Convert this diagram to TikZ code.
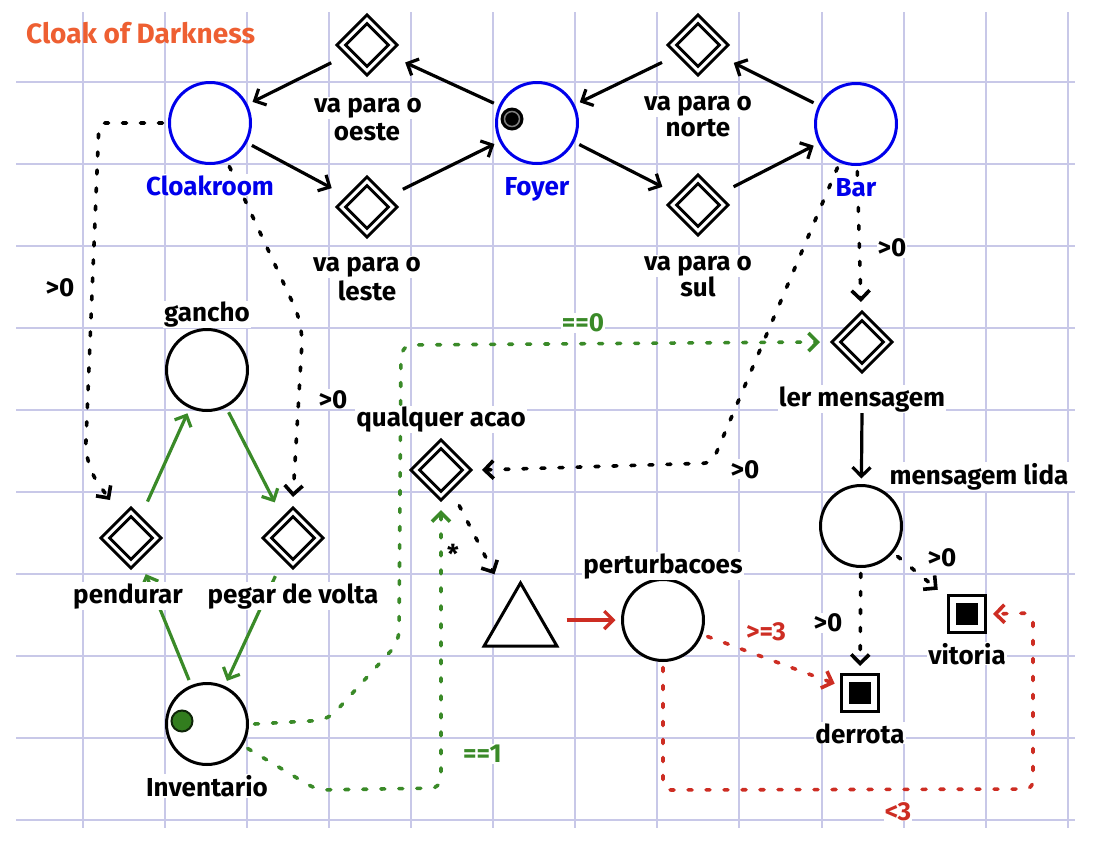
\documentclass[tikz,border=0pt]{standalone}
\usepackage{fontspec}
\setmainfont{Fira Sans}
\usetikzlibrary{arrows.meta,calc,shapes.geometric}
\definecolor{gridc}{RGB}{200,200,232}
\definecolor{roomblue}{RGB}{0,0,235}
\definecolor{dgreen}{RGB}{58,138,40}
\definecolor{dred}{RGB}{205,45,35}
\definecolor{titlec}{RGB}{238,95,50}
\definecolor{dotgreen}{RGB}{50,125,30}
\newcommand\lblfont{\fontsize{26}{28}\selectfont\bfseries}
\newcommand\ttlfont{\fontsize{28}{30}\selectfont\bfseries}
\pgfdeclarelayer{gridlayer}
\pgfdeclarelayer{connlayer}
\pgfsetlayers{gridlayer,connlayer,main}
\begin{document}
\begin{tikzpicture}[x=1pt,y=-1pt,
  gridline/.style={draw=gridc, line width=2pt},
  place/.style={circle, draw, line width=3pt, minimum size=81pt, inner sep=0pt, outer sep=7pt, fill=white},
  room/.style={place, draw=roomblue},
  trans/.style={diamond, aspect=1, draw, line width=3pt, double, double distance=3pt, minimum size=52.6pt, inner sep=0pt, fill=white},
  goal/.style={rectangle, draw, line width=3.3pt, minimum size=36.7pt, inner sep=0pt, fill=white,
    path picture={\fill[black] ([shift={(-10.7pt,-10.7pt)}]path picture bounding box.center) rectangle ([shift={(10.7pt,10.7pt)}]path picture bounding box.center);}},
  lbl/.style={font=\lblfont, fill=white, inner sep=1pt, anchor=base},
  roomlbl/.style={lbl, text=roomblue},
  glbl/.style={lbl, text=dgreen},
  rlbl/.style={lbl, text=dred},
  karr/.style={draw=black, line width=3.2pt, -{Straight Barb[length=9pt,width=18pt]}},
  kdot/.style={karr, line width=3.6pt, line cap=round, dash pattern=on 4pt off 14pt},
  garr/.style={karr, draw=dgreen},
  gdot/.style={kdot, draw=dgreen},
  rarr/.style={karr, draw=dred},
  rdot/.style={kdot, draw=dred}]
\useasboundingbox (0,0) rectangle (1112,852);

\begin{pgfonlayer}{gridlayer}
\fill[white] (0,0) rectangle (1112,852);
\foreach \i in {0,...,12} \draw[gridline] ({83+82.06*\i},12) -- ({83+82.06*\i},828);
\foreach \j in {0,...,9} \draw[gridline] (16,{82+82*\j}) -- (1075,{82+82*\j});
\end{pgfonlayer}

% places
\node[room] (cloak) at (210,123) {};
\node[room] (foyer) at (537,123) {};
\node[room] (bar) at (856,124) {};
\node[place] (gancho) at (207,370) {};
\node[place] (invent) at (207,724) {};
\node[place] (pert) at (663,620) {};
\node[place] (lida) at (861,526) {};
% transitions
\node[trans] (oeste) at (367,45) {};
\node[trans] (leste) at (367,207) {};
\node[trans] (norte) at (698,45) {};
\node[trans] (sul) at (698,205) {};
\node[trans] (pend) at (131,538) {};
\node[trans] (pegar) at (293,538) {};
\node[trans] (qual) at (441,470) {};
\node[trans] (ler) at (862,342) {};
\node[regular polygon, regular polygon sides=3, draw, line width=3pt, minimum size=84pt, inner sep=0pt, fill=white] (trig) at (520.5,625) {};
\node[goal] (vit) at (967,614) {};
\node[goal] (der) at (860,693) {};
% tokens
\fill[black] ($(foyer)+(-25,-4)$) circle (11.5pt);
\draw[gray, line width=1.5pt] ($(foyer)+(-25,-4)$) circle (7.5pt);
\filldraw[fill=dotgreen, draw=black!70!dotgreen, line width=2pt] ($(invent)+(-25,-3)$) circle (10.5pt);

% labels
\node[font=\ttlfont, text=titlec, anchor=base west, inner sep=0pt] (title) at (26,43) {Cloak of Darkness};
\node[roomlbl] (cloakL) at (210,195) {Cloakroom};
\node[roomlbl] (foyerL) at (537,195) {Foyer};
\node[roomlbl] (barL) at (856,196) {Bar};
\node[lbl] (oesteA) at (368,112.5) {va para o};
\node[lbl] (oesteB) at (367,140) {oeste};
\node[lbl] (lesteA) at (367,271.5) {va para o};
\node[lbl] (lesteB) at (367,300) {leste};
\node[lbl] (norteA) at (698,110) {va para o};
\node[lbl] (norteB) at (698,136.5) {norte};
\node[lbl] (sulA) at (698,270) {va para o};
\node[lbl] (sulB) at (698,296.5) {sul};
\node[lbl] (ganchoL) at (207,321.5) {gancho};
\node[lbl] (pendL) at (128,603) {pendurar};
\node[lbl] (pegL) at (293,603) {pegar de volta};
\node[lbl] (invL) at (207,796.5) {Inventario};
\node[lbl] (qualL) at (441,426.5) {qualquer acao};
\node[lbl] (pertL) at (663,573) {perturbacoes};
\node[lbl] (lerL) at (862,406) {ler mensagem};
\node[lbl] (lidaL) at (979,484) {mensagem lida};
\node[lbl] (vitL) at (967,664) {vitoria};
\node[lbl] (derL) at (860,743) {derrota};
% conditions
\node[lbl] (c1) at (60,296.5) {>0};
\node[lbl] (c2) at (333,408) {>0};
\node[lbl] (c3) at (892,256.5) {>0};
\node[lbl] (c4) at (745,478) {>0};
\node[lbl] (c5) at (942,566.5) {>0};
\node[lbl] (c6) at (828,631.5) {>0};
\node[lbl] (star) at (453,563) {*};
\node[glbl] (g0) at (583,331.5) {==0};
\node[glbl] (g1) at (482.5,762.5) {==1};
\node[rlbl] (r3) at (766,640) {>=3};
\node[rlbl] (rl) at (898,820) {<3};

\begin{pgfonlayer}{connlayer}
% black solid
\draw[karr] ($(oeste)!40pt!(cloak)$) -- (cloak);
\draw[karr] (foyer) -- ($(oeste)!42pt!(foyer)$);
\draw[karr] (cloak) -- ($(leste)!40pt!(cloak)$);
\draw[karr] ($(leste)!40pt!(foyer)$) -- (foyer);
\draw[karr] (foyer) -- ($(sul)!40pt!(foyer)$);
\draw[karr] ($(norte)!40pt!(foyer)$) -- (foyer);
\draw[karr] (bar) -- ($(norte)!40pt!(bar)$);
\draw[karr] ($(sul)!40pt!(bar)$) -- (bar);
\draw[karr] (lerL.south) -- (lida);
% black dotted
\draw[kdot, rounded corners=6pt] (cloak.west) -- (99,123) [rounded corners=22pt] -- (85,465) -- ($(pend)+(-21,-38)$);
\draw[kdot, rounded corners=20pt] (cloak.-66) -- (303,325) -- ($(pegar)+(0,-41)$);
\draw[kdot] (bar) -- ($(ler)!40pt!(bar)$);
\draw[kdot, rounded corners=8pt] (bar.247) -- (712,463) -- ($(qual)+(41,0)$);
\draw[kdot] ($(qual)!40pt!(trig)$) -- ($(trig)!57pt!(qual)$);
\draw[kdot] (lida) -- ($(vit)!38pt!(lida)$);
\draw[kdot] (lida) -- ($(der)!27pt!(lida)$);
% green
\draw[garr] ($(pend)!40pt!(gancho)$) -- (gancho);
\draw[garr] (gancho) -- ($(pegar)!40pt!(gancho)$);
\draw[garr] (invent) -- ($(pend)!39pt!(invent)$);
\draw[garr] ($(pegar)!42pt!(invent)$) -- (invent);
\draw[gdot, rounded corners=12pt] (invent.east) -- (328,720) -- (399,642) -- (401,345) -- ($(ler)+(-42,0)$);
\draw[gdot, rounded corners=10pt] (invent.-31) -- (317,790) -- (441,788) -- ($(qual)+(0,40)$);
% red
\draw[rarr] ($(trig.center)+(46,-5)$) -- (pert);
\draw[rdot] (pert) -- ($(der)!27pt!(pert)$);
\draw[rdot, rounded corners=8pt] (pert.south) -- (663,790) -- (1033,789) -- (1033,613) -- ($(vit)+(26,0)$);
\end{pgfonlayer}
\end{tikzpicture}
\end{document}
